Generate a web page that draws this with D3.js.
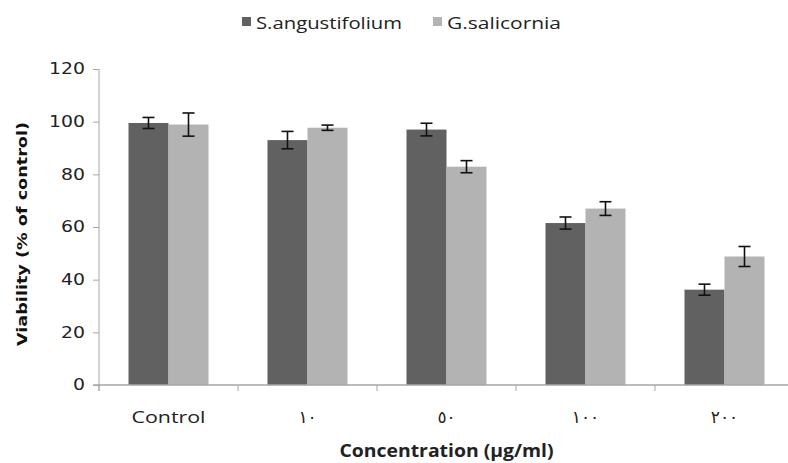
<!DOCTYPE html>
<html>
<head>
<meta charset="utf-8">
<script src="https://cdn.jsdelivr.net/npm/d3@7"></script>
<style>
  body { margin: 0; background: #fff; }
  svg { display: block; }
</style>
</head>
<body>
<svg width="788" height="463"></svg>
<script>
// data
var categories = ["Control", "١٠", "٥٠", "١٠٠", "٢٠٠"];
var seriesNames = ["S.angustifolium", "G.salicornia"];
var sAngustifolium = [99.5, 93.0, 97.0, 61.5, 36.2];
var sAngustifoliumErr = [2.1, 3.3, 2.4, 2.3, 2.1];
var gSalicornia = [98.9, 97.7, 82.9, 67.0, 48.8];
var gSalicorniaErr = [4.4, 1.0, 2.3, 2.6, 3.8];
var yTicks = [0, 20, 40, 60, 80, 100, 120];

var colors = ["#616161", "#b3b3b3"];
var axisColor = "#a6a6a6";

var svg = d3.select("svg");

var margin = {left: 99, right: -6, top: 69, bottom: 78};
var width = 788 - margin.left - margin.right,
    height = 463 - margin.top - margin.bottom;

var g = svg.append("g").attr("transform", "translate(" + margin.left + "," + margin.top + ")");

var x = d3.scaleBand().domain(categories).range([0, width]).paddingInner(0).paddingOuter(0);
var y = d3.scaleLinear().domain([0, 120]).range([height, 0]);
var barW = 40;

// build rows for bars
var rows = [];
categories.forEach(function(c, i) {
  rows.push({cat: c, s: 0, v: sAngustifolium[i], e: sAngustifoliumErr[i]});
  rows.push({cat: c, s: 1, v: gSalicornia[i], e: gSalicorniaErr[i]});
});

function barX(d) { return x(d.cat) + x.bandwidth() / 2 + (d.s === 0 ? -barW : 0); }

g.selectAll(".bar").data(rows).enter().append("rect")
  .attr("class", "bar")
  .attr("x", barX)
  .attr("width", barW)
  .attr("y", function(d) { return y(d.v); })
  .attr("height", function(d) { return y(0) - y(d.v); })
  .attr("fill", function(d) { return colors[d.s]; });

// error bars
var eb = g.selectAll(".err").data(rows).enter().append("g").attr("class", "err")
  .attr("stroke", "#111").attr("stroke-width", 1.6);
eb.append("line")
  .attr("x1", function(d) { return barX(d) + barW / 2; })
  .attr("x2", function(d) { return barX(d) + barW / 2; })
  .attr("y1", function(d) { return y(d.v + d.e); })
  .attr("y2", function(d) { return y(d.v - d.e); });
[1, -1].forEach(function(sign) {
  eb.append("line")
    .attr("x1", function(d) { return barX(d) + barW / 2 - 6; })
    .attr("x2", function(d) { return barX(d) + barW / 2 + 6; })
    .attr("y1", function(d) { return y(d.v + sign * d.e); })
    .attr("y2", function(d) { return y(d.v + sign * d.e); });
});

// y axis
var yAxis = g.append("g").call(d3.axisLeft(y).tickValues(yTicks).tickSize(6).tickPadding(8));
yAxis.select(".domain").attr("stroke", axisColor).attr("d", "M0," + (height + 6) + "V0");
yAxis.selectAll(".tick line").attr("stroke", axisColor);
yAxis.selectAll("text")
  .attr("fill", "#222")
  .style("font-family", "'DejaVu Sans', sans-serif")
  .style("font-size", "15px")
  .attr("textLength", function(d) { return String(d).length * 12; })
  .attr("lengthAdjust", "spacingAndGlyphs");

// x axis
var xAxis = g.append("g").attr("transform", "translate(0," + height + ")")
  .call(d3.axisBottom(x).tickSize(0).tickPadding(26));
xAxis.select(".domain").attr("stroke", axisColor).attr("stroke-width", 1.5).attr("d", "M-6,0H" + width);
xAxis.selectAll("text")
  .attr("fill", "#222")
  .style("font-family", "'Open Sans', 'DejaVu Sans', sans-serif")
  .style("font-size", "17px")
  .each(function(d) {
    if (d === "Control") d3.select(this).attr("textLength", 74).attr("lengthAdjust", "spacingAndGlyphs");
  });
// category boundary ticks
g.selectAll(".xtick").data(d3.range(categories.length + 1)).enter().append("line")
  .attr("x1", function(i) { return i * x.bandwidth(); })
  .attr("x2", function(i) { return i * x.bandwidth(); })
  .attr("y1", height).attr("y2", height + 6)
  .attr("stroke", axisColor);

// axis titles
svg.append("text")
  .attr("x", margin.left + width / 2).attr("y", 457)
  .attr("text-anchor", "middle")
  .attr("fill", "#222")
  .style("font-family", "'Open Sans', sans-serif")
  .style("font-size", "17px")
  .style("font-weight", "bold")
  .attr("textLength", 214)
  .attr("lengthAdjust", "spacingAndGlyphs")
  .text("Concentration (µg/ml)");

svg.append("text")
  .attr("transform", "translate(27,234) rotate(-90)")
  .attr("text-anchor", "middle")
  .attr("fill", "#111")
  .style("font-family", "'DejaVu Sans', sans-serif")
  .style("font-size", "14px")
  .style("font-weight", "bold")
  .attr("textLength", 224)
  .attr("lengthAdjust", "spacingAndGlyphs")
  .text("Viability (% of control)");

// legend
var legendX = [242, 433], legendW = [146, 114];
var lg = svg.append("g");
seriesNames.forEach(function(name, i) {
  lg.append("rect").attr("x", legendX[i]).attr("y", 17).attr("width", 9).attr("height", 9).attr("fill", colors[i]);
  lg.append("text")
    .attr("x", legendX[i] + 14).attr("y", 29)
    .attr("fill", "#222")
    .style("font-family", "'Open Sans', sans-serif")
    .style("font-size", "16px")
    .attr("textLength", legendW[i])
    .attr("lengthAdjust", "spacingAndGlyphs")
    .text(name);
});
</script>
</body>
</html>
